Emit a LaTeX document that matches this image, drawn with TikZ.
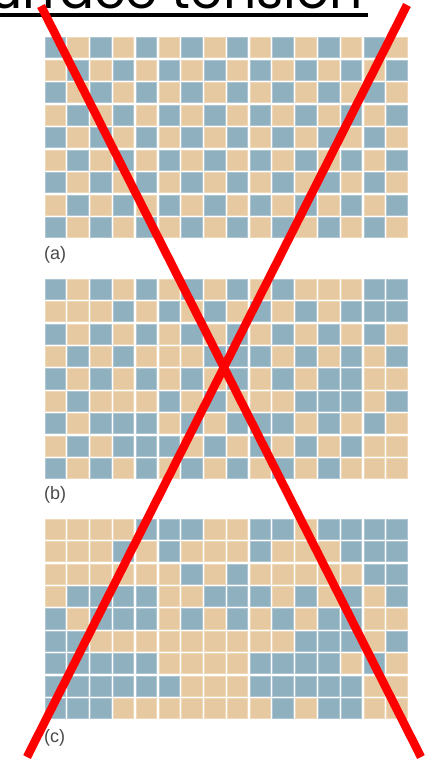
\documentclass[tikz,border=0pt]{standalone}
\usepackage{fontspec}
\setmainfont{Liberation Sans}
\newfontfamily\titlefont{Poppins}
\definecolor{cblue}{HTML}{8FB0BE}
\definecolor{cblueedge}{HTML}{ADC6D1}
\definecolor{ctan}{HTML}{E6C9A0}
\definecolor{ctanedge}{HTML}{EFD9B9}
\definecolor{labgray}{HTML}{4A4A4A}
\definecolor{xred}{HTML}{FF0000}
\tikzset{
  cellzero/.style={fill=ctan,draw=ctanedge,line width=0.7pt},
  cellone/.style={fill=cblue,draw=cblueedge,line width=0.7pt},
  lab/.style={font=\fontsize{18}{21}\selectfont,text=labgray,inner sep=0pt,anchor=west},
  crossline/.style={draw=xred,line width=8.5pt},
  titletext/.style={font=\titlefont\fontsize{52}{60}\selectfont,inner sep=0pt,anchor=base east}
}
\newcommand\cellat[4]{%
  \ifnum#4=1
    \path[cellone] ({45+#3*22.78},{#1+#2*22.45}) rectangle ++(20.5,20.1);
  \else
    \path[cellzero] ({45+#3*22.78},{#1+#2*22.45}) rectangle ++(20.5,20.1);
  \fi}
\begin{document}
\begin{tikzpicture}[x=1pt,y=-1pt]
\fill[white] (0,0) rectangle (433,764);
\useasboundingbox (0,0) rectangle (433,764);
% title (cut off at top)
\node[titletext] (title) at (363,8) {Surface tension};
\coordinate (ulA) at (-5,14.7);
\coordinate (ulB) at (368,14.7);
\draw[line width=4pt] (ulA) -- (ulB);
% grid (a): checkerboard
\foreach \r in {0,...,8}{
  \foreach \c in {0,...,15}{
    \pgfmathtruncatemacro\v{mod(\r+\c+1,2)}
    \cellat{37.7}{\r}{\c}{\v}
  }}
% grid (b)
\foreach \r/\bits in {
  0/{1,0,1,0,1,0,1,0,1,0,1,0,0,0,1,1},
  1/{0,0,0,1,0,1,0,1,0,1,0,1,0,1,1,1},
  2/{1,0,1,0,1,0,1,0,1,0,1,0,1,0,1,0},
  3/{0,1,0,1,0,0,0,1,1,1,0,1,0,1,0,1},
  4/{1,0,1,0,1,0,1,0,1,0,1,0,1,1,0,0},
  5/{0,1,0,0,0,1,0,1,0,0,0,1,1,1,0,1},
  6/{1,0,1,1,1,0,1,0,1,1,1,0,1,0,1,0},
  7/{0,1,0,1,1,1,0,1,0,1,0,1,0,1,0,0},
  8/{1,0,1,0,1,0,1,0,1,0,1,0,1,0,0,0}}{
  \foreach \v [count=\c from 0] in \bits {\cellat{279}{\r}{\c}{\v}}}
% grid (c)
\foreach \r/\bits in {
  0/{0,0,0,0,1,1,1,0,0,1,1,0,1,1,1,1},
  1/{0,0,0,1,0,1,0,0,0,1,0,0,0,1,1,1},
  2/{0,0,0,0,0,0,1,0,1,0,0,0,0,0,1,1},
  3/{0,1,1,1,1,0,0,1,1,1,0,1,0,1,0,1},
  4/{1,0,1,1,1,0,1,0,1,0,1,0,1,1,0,0},
  5/{1,1,0,0,0,0,0,0,0,0,0,1,1,1,0,1},
  6/{1,1,1,1,1,0,0,0,0,1,1,1,1,0,1,0},
  7/{1,1,1,1,1,1,0,0,0,1,1,1,1,1,0,0},
  8/{1,1,1,0,0,0,0,0,0,0,1,0,1,1,0,0}}{
  \foreach \v [count=\c from 0] in \bits {\cellat{519}{\r}{\c}{\v}}}
% labels
\node[lab] (la) at (44,255) {(a)};
\node[lab] (lb) at (44,495) {(b)};
\node[lab] (lc) at (44,738) {(c)};
% red cross
\coordinate (xa) at (41,6);
\coordinate (xb) at (421,757);
\coordinate (xc) at (407,5);
\coordinate (xd) at (27,757);
\draw[crossline] (xa) -- (xb);
\draw[crossline] (xc) -- (xd);
\end{tikzpicture}
\end{document}
